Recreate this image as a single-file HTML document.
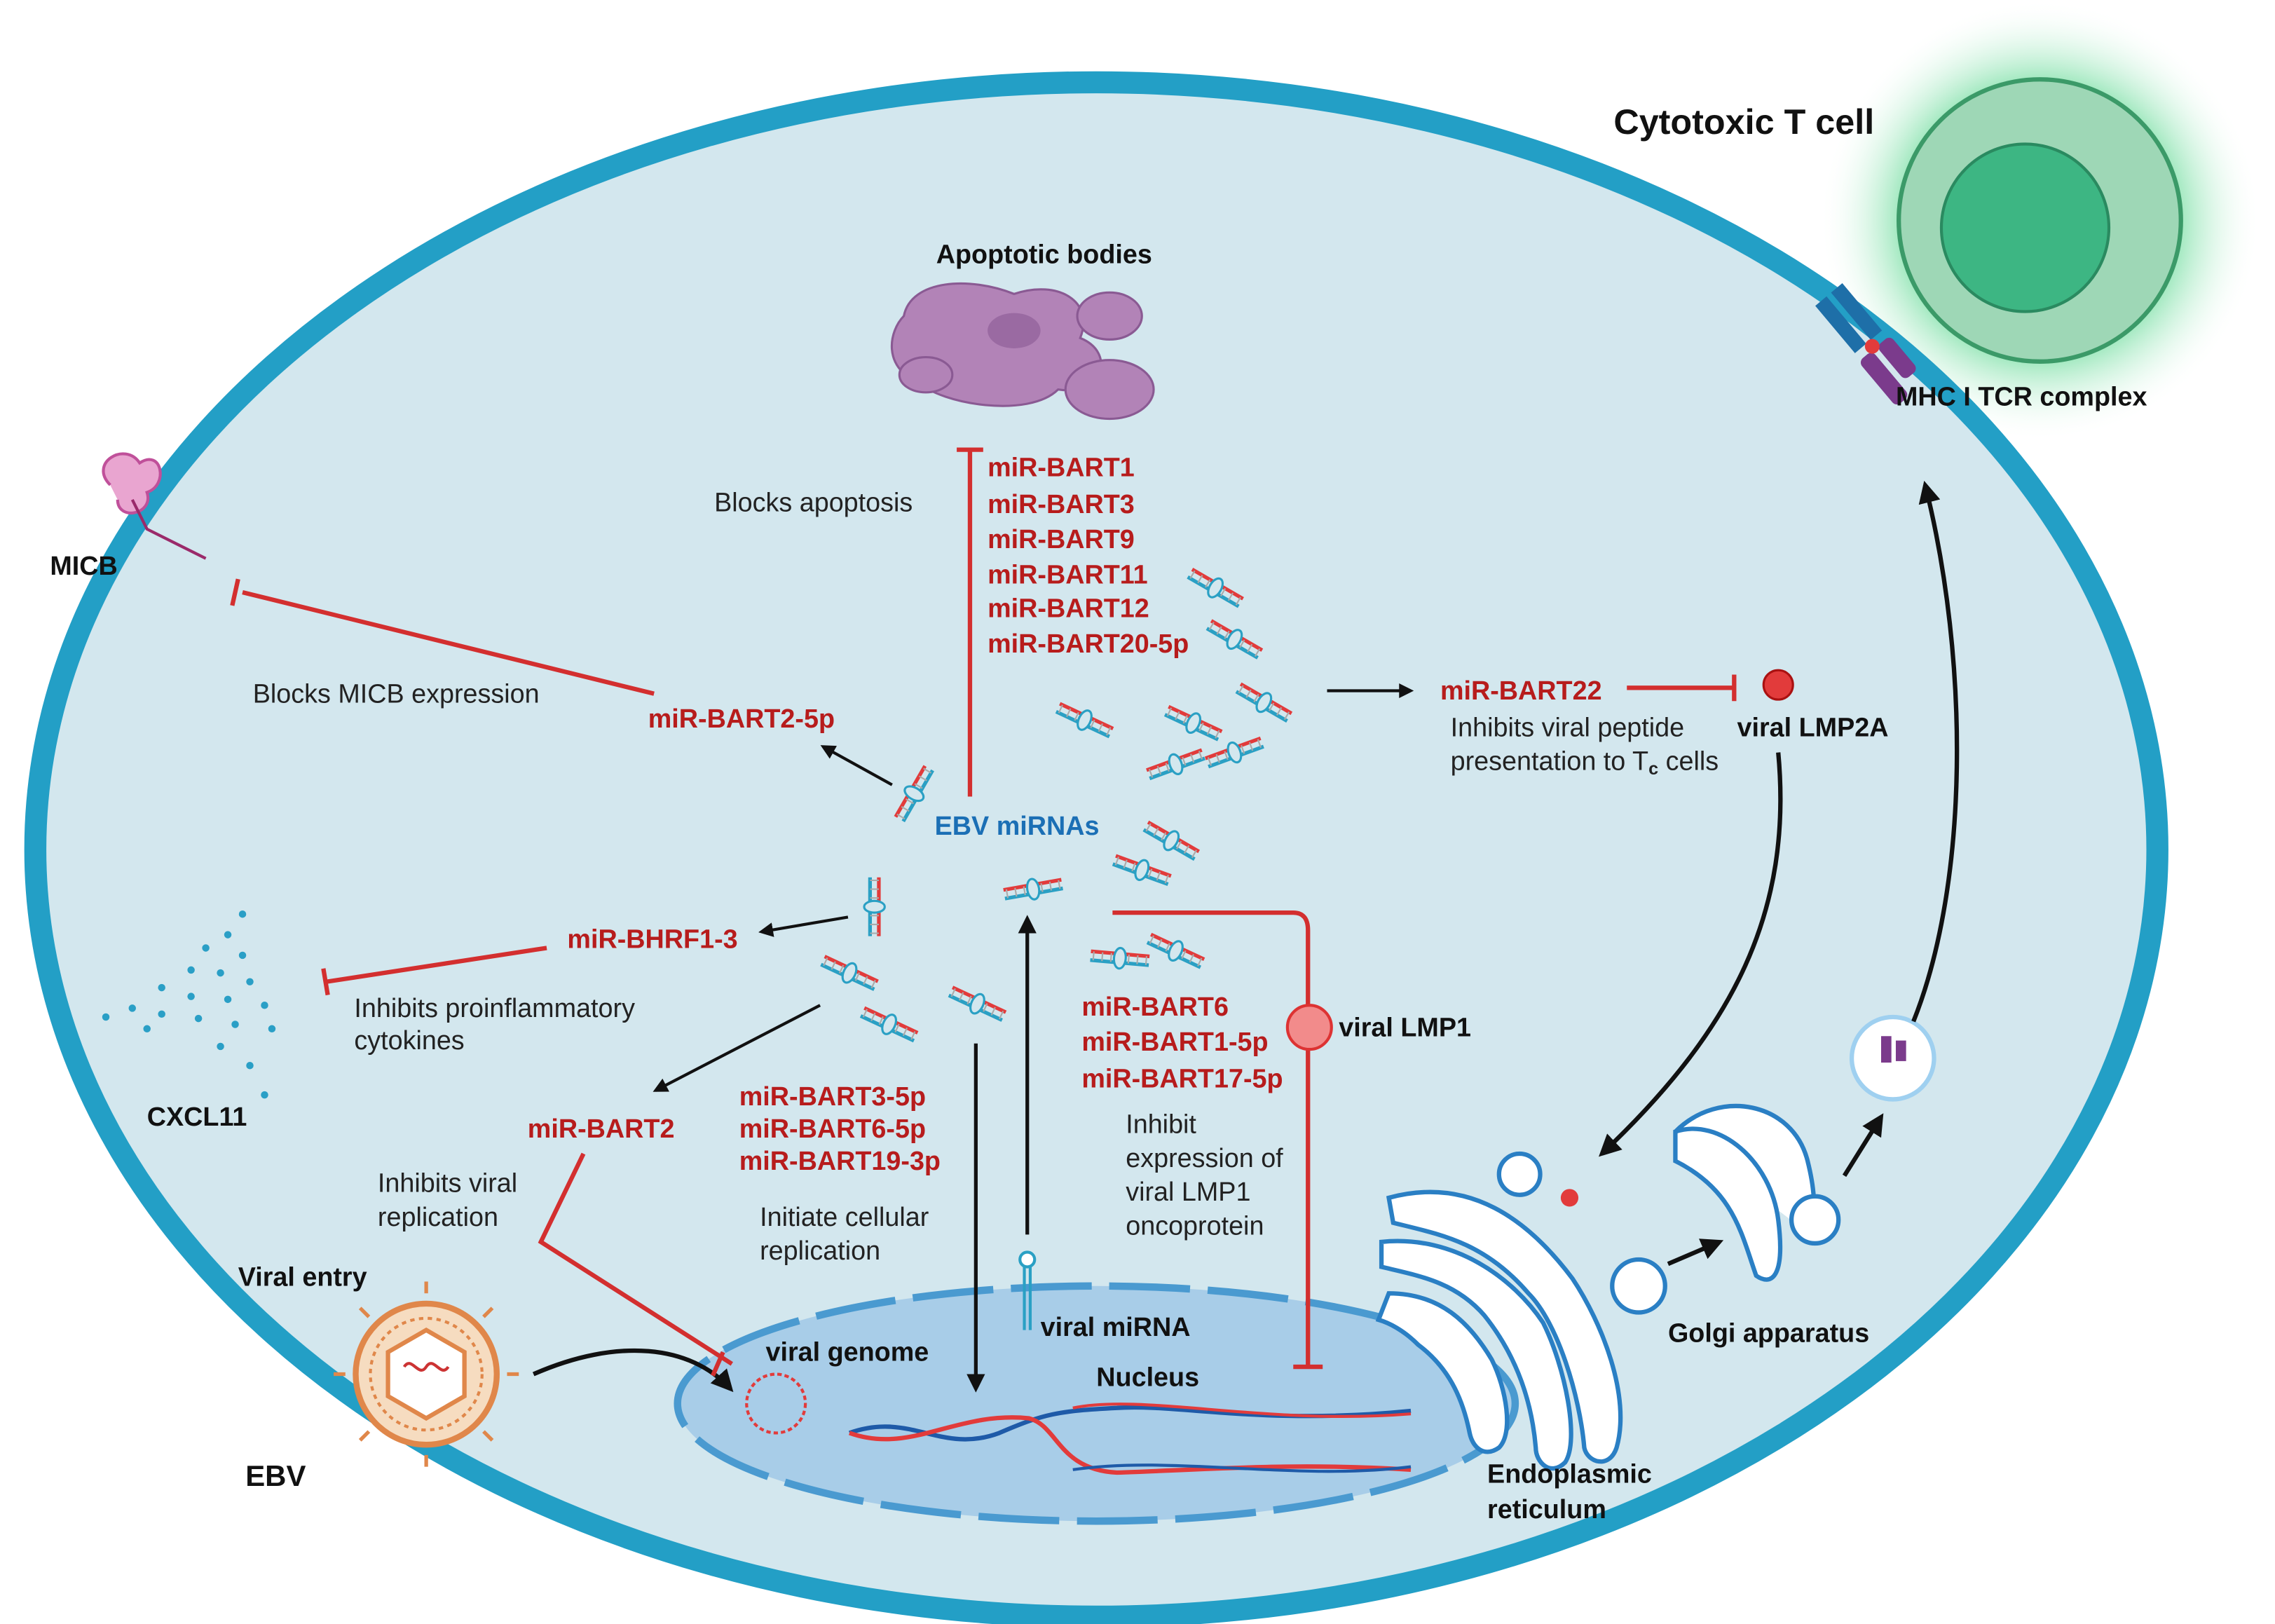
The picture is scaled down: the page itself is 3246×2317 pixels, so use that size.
<!DOCTYPE html>
<html><head><meta charset="utf-8"><style>
html,body{margin:0;padding:0;background:#fff}
svg{display:block}
text{font-family:"Liberation Sans",Arial,sans-serif}
.b{font-weight:bold;font-size:18px;fill:#111}
.r{font-weight:bold;font-size:18px;fill:#b71c1c}
.n{font-size:18px;fill:#222}
</style></head><body>
<svg width="3246" height="2317" viewBox="0 0 1548 1105" xmlns="http://www.w3.org/2000/svg">
<defs>
<radialGradient id="glow" cx="0.5" cy="0.5" r="0.5">
<stop offset="0.6" stop-color="#7fe0a8" stop-opacity="0.9"/>
<stop offset="1" stop-color="#ffffff" stop-opacity="0"/>
</radialGradient>
<marker id="ah" viewBox="0 0 10 10" refX="8" refY="5" markerWidth="5" markerHeight="5" orient="auto"><path d="M0,0 L10,5 L0,10 z" fill="#111"/></marker>
<g id="mi">
<path d="M-20,-3 L20,-3" stroke="#e23b3b" stroke-width="2.5"/>
<path d="M-20,3 L20,3" stroke="#2aa0c4" stroke-width="2.5"/>
<path d="M-18,-3 v6 M-12,-3 v6 M-6,-3 v6 M6,-3 v6 M12,-3 v6 M18,-3 v6" stroke="#aaa" stroke-width="1"/>
<ellipse cx="0" cy="0" rx="4" ry="7" fill="#d3e7ee" stroke="#2aa0c4" stroke-width="1.5"/>
</g>
</defs>
<rect width="1548" height="1105" fill="#fff"/>
<circle cx="1388" cy="150" r="150" fill="url(#glow)"/>
<ellipse cx="746" cy="578" rx="722" ry="522" fill="#d3e7ee" stroke="#239fc6" stroke-width="15"/>
<circle cx="1388" cy="150" r="96" fill="#9ed7b6" stroke="#3b9a68" stroke-width="3"/>
<circle cx="1378" cy="155" r="57" fill="#3db683" stroke="#2a8a60" stroke-width="2"/>
<text x="1098" y="91" class="b" style="font-size:24px">Cytotoxic T cell</text>
<g transform="rotate(-40 1275 240)">
<rect x="1265" y="190" width="10" height="42" fill="#1e6fa8"/><rect x="1279" y="190" width="10" height="42" fill="#1e6fa8"/>
<rect x="1263" y="238" width="12" height="40" rx="4" fill="#7b3b8c"/><rect x="1279" y="238" width="12" height="30" rx="4" fill="#7b3b8c"/>
<circle cx="1277" cy="236" r="5" fill="#e23b3b"/>
</g>
<text x="1290" y="276" class="b">MHC I TCR complex</text>
<ellipse cx="746" cy="955" rx="285" ry="80" fill="#a8cde8"/>
<ellipse cx="746" cy="955" rx="285" ry="80" fill="none" stroke="#4a9ad0" stroke-width="5" stroke-dasharray="55 12"/>
<path d="M578,975 C620,960 640,990 680,975 C710,962 720,960 760,958 C800,955 860,970 960,960" stroke="#1e5aa8" stroke-width="3" fill="none"/>
<path d="M578,975 C620,990 650,960 700,965 C720,970 720,1000 760,1002 C820,1000 880,995 960,1000" stroke="#e23b3b" stroke-width="3" fill="none"/>
<path d="M730,958 C780,948 860,970 960,962" stroke="#e23b3b" stroke-width="2" fill="none"/>
<path d="M730,1000 C800,990 880,1008 960,998" stroke="#1e5aa8" stroke-width="2" fill="none"/>
<text x="746" y="943" class="b">Nucleus</text>
<circle cx="528" cy="955" r="20" fill="none" stroke="#e23b3b" stroke-width="2" stroke-dasharray="3 2"/>
<text x="521" y="926" class="b">viral genome</text>
<text x="637" y="179" class="b">Apoptotic bodies</text>
<g fill="#b283b7" stroke="#8a5a93" stroke-width="1.5">
<path d="M615,215 C620,190 660,188 690,200 C720,190 745,205 735,230 C760,240 750,270 720,265 C700,285 640,275 625,260 C600,250 605,225 615,215z"/>
<ellipse cx="755" cy="215" rx="22" ry="16"/><ellipse cx="755" cy="265" rx="30" ry="20"/><ellipse cx="630" cy="255" rx="18" ry="12"/>
</g>
<ellipse cx="690" cy="225" rx="18" ry="12" fill="#9a6aa2"/>
<circle cx="290" cy="935" r="48" fill="#f6dcc0" stroke="#e0874a" stroke-width="4"/>
<circle cx="290" cy="935" r="38" fill="none" stroke="#e0874a" stroke-width="2" stroke-dasharray="3 3"/>
<polygon points="290,905 316,920 316,950 290,965 264,950 264,920" fill="#fff" stroke="#e0874a" stroke-width="3"/>
<path d="M275,930 c5,-8 10,8 15,0 c5,-8 10,8 15,0" stroke="#c33" fill="none" stroke-width="2"/>
<g stroke="#e0874a" stroke-width="2.5">
<line x1="290" y1="880" x2="290" y2="872"/><line x1="290" y1="990" x2="290" y2="998"/><line x1="235" y1="935" x2="227" y2="935"/><line x1="345" y1="935" x2="353" y2="935"/>
<line x1="251" y1="896" x2="245" y2="890"/><line x1="329" y1="896" x2="335" y2="890"/><line x1="251" y1="974" x2="245" y2="980"/><line x1="329" y1="974" x2="335" y2="980"/>
</g>
<text x="162" y="875" class="b">Viral entry</text>
<text x="167" y="1011" class="b" style="font-size:20px">EBV</text>
<path d="M363,935 C420,910 470,915 497,945" stroke="#111" stroke-width="3" fill="none" marker-end="url(#ah)"/>
<path d="M75,330 c-15,-15 10,-30 20,-15 c15,-10 20,15 5,20 c5,15 -20,20 -20,5" fill="#e9a5d0" stroke="#c0509a" stroke-width="2"/>
<path d="M90,340 L100,360 L140,380" stroke="#9a2a6a" stroke-width="2" fill="none"/>
<text x="34" y="391" class="b">MICB</text>
<g fill="#2a9fc6">
<circle cx="165" cy="622" r="2.5"/><circle cx="155" cy="636" r="2.5"/><circle cx="140" cy="645" r="2.5"/><circle cx="165" cy="650" r="2.5"/><circle cx="130" cy="660" r="2.5"/><circle cx="150" cy="662" r="2.5"/><circle cx="170" cy="668" r="2.5"/><circle cx="110" cy="672" r="2.5"/><circle cx="130" cy="678" r="2.5"/><circle cx="155" cy="680" r="2.5"/><circle cx="180" cy="684" r="2.5"/><circle cx="90" cy="686" r="2.5"/><circle cx="110" cy="690" r="2.5"/><circle cx="135" cy="693" r="2.5"/><circle cx="160" cy="697" r="2.5"/><circle cx="72" cy="692" r="2.5"/><circle cx="100" cy="700" r="2.5"/><circle cx="150" cy="712" r="2.5"/><circle cx="170" cy="725" r="2.5"/><circle cx="180" cy="745" r="2.5"/><circle cx="185" cy="700" r="2.5"/>
</g>
<text x="100" y="766" class="b">CXCL11</text>
<use href="#mi" transform="translate(827,400) rotate(30)"/>
<use href="#mi" transform="translate(840,435) rotate(30)"/>
<use href="#mi" transform="translate(860,478) rotate(30)"/>
<use href="#mi" transform="translate(738,490) rotate(25)"/>
<use href="#mi" transform="translate(812,492) rotate(25)"/>
<use href="#mi" transform="translate(800,520) rotate(-20)"/>
<use href="#mi" transform="translate(840,512) rotate(-20)"/>
<use href="#mi" transform="translate(622,540) rotate(-60)"/>
<use href="#mi" transform="translate(797,572) rotate(30)"/>
<use href="#mi" transform="translate(777,592) rotate(20)"/>
<use href="#mi" transform="translate(703,605) rotate(-10)"/>
<use href="#mi" transform="translate(595,617) rotate(90)"/>
<use href="#mi" transform="translate(578,662) rotate(25)"/>
<use href="#mi" transform="translate(605,697) rotate(25)"/>
<use href="#mi" transform="translate(665,683) rotate(25)"/>
<use href="#mi" transform="translate(762,652) rotate(5)"/>
<use href="#mi" transform="translate(800,647) rotate(25)"/>
<text x="486" y="348" class="n">Blocks apoptosis</text>
<text x="672" y="324" class="r">miR-BART1</text><text x="672" y="349" class="r">miR-BART3</text><text x="672" y="373" class="r">miR-BART9</text><text x="672" y="397" class="r">miR-BART11</text><text x="672" y="420" class="r">miR-BART12</text><text x="672" y="444" class="r">miR-BART20-5p</text>
<path d="M660,542 V306 M651,306 H669" stroke="#d32f2f" stroke-width="3" fill="none"/>
<text x="636" y="568" class="b" style="fill:#1b6fb5">EBV miRNAs</text>
<text x="172" y="478" class="n">Blocks MICB expression</text>
<text x="441" y="495" class="r">miR-BART2-5p</text>
<path d="M445,472 L165,403 M162,394 L158,412" stroke="#d32f2f" stroke-width="3" fill="none"/>
<line x1="607" y1="534" x2="560" y2="508" stroke="#111" stroke-width="2" marker-end="url(#ah)"/>
<line x1="903" y1="470" x2="960" y2="470" stroke="#111" stroke-width="2" marker-end="url(#ah)"/>
<text x="980" y="476" class="r">miR-BART22</text>
<path d="M1107,468 H1180 M1180,459 V477" stroke="#d32f2f" stroke-width="3" fill="none"/>
<circle cx="1210" cy="466" r="10" fill="#e23b3b" stroke="#a11" stroke-width="1.5"/>
<text x="1182" y="501" class="b">viral LMP2A</text>
<text x="987" y="501" class="n">Inhibits viral peptide</text>
<text x="987" y="524" class="n">presentation to T<tspan font-size="12" font-weight="bold" dy="3">c</tspan><tspan dy="-3"> cells</tspan></text>
<path d="M1210,512 C1220,620 1180,700 1090,785" stroke="#111" stroke-width="3" fill="none" marker-end="url(#ah)"/>
<text x="386" y="645" class="r">miR-BHRF1-3</text>
<line x1="577" y1="624" x2="518" y2="634" stroke="#111" stroke-width="2" marker-end="url(#ah)"/>
<path d="M372,645 L222,668 M220,659 L223,677" stroke="#d32f2f" stroke-width="3" fill="none"/>
<text x="241" y="692" class="n">Inhibits proinflammatory</text>
<text x="241" y="714" class="n">cytokines</text>
<line x1="558" y1="684" x2="446" y2="742" stroke="#111" stroke-width="2" marker-end="url(#ah)"/>
<text x="359" y="774" class="r">miR-BART2</text>
<text x="257" y="811" class="n">Inhibits viral</text>
<text x="257" y="834" class="n">replication</text>
<path d="M397,785 L368,845 L498,928 M492,920 L485,936" stroke="#d32f2f" stroke-width="3" fill="none"/>
<text x="503" y="752" class="r">miR-BART3-5p</text>
<text x="503" y="774" class="r">miR-BART6-5p</text>
<text x="503" y="796" class="r">miR-BART19-3p</text>
<text x="517" y="834" class="n">Initiate cellular</text>
<text x="517" y="857" class="n">replication</text>
<line x1="664" y1="710" x2="664" y2="945" stroke="#111" stroke-width="2.5" marker-end="url(#ah)"/>
<line x1="699" y1="840" x2="699" y2="625" stroke="#111" stroke-width="2.5" marker-end="url(#ah)"/>
<circle cx="699" cy="857" r="5" fill="#fff" stroke="#2aa0c4" stroke-width="2"/>
<path d="M697,862 V905 M701,862 V905" stroke="#2aa0c4" stroke-width="2"/>
<text x="708" y="909" class="b">viral miRNA</text>
<path d="M757,621 H880 Q890,621 890,633 V930 M880,930 H900" stroke="#d32f2f" stroke-width="3" fill="none"/>
<circle cx="891" cy="699" r="15" fill="#f28b8b" stroke="#d33" stroke-width="2"/>
<text x="911" y="705" class="b">viral LMP1</text>
<text x="736" y="691" class="r">miR-BART6</text>
<text x="736" y="715" class="r">miR-BART1-5p</text>
<text x="736" y="740" class="r">miR-BART17-5p</text>
<text x="766" y="771" class="n">Inhibit</text>
<text x="766" y="794" class="n">expression of</text>
<text x="766" y="817" class="n">viral LMP1</text>
<text x="766" y="840" class="n">oncoprotein</text>
<g fill="#fff" stroke="#2a7fc4" stroke-width="3">
<circle cx="1034" cy="799" r="14"/>
<path d="M945,815 C1000,800 1040,830 1070,870 C1090,900 1110,950 1100,985 C1095,1000 1080,995 1078,985 C1075,950 1060,900 1040,880 C1010,845 980,840 948,832 Z"/>
<path d="M940,845 C990,840 1030,870 1050,900 C1065,930 1075,980 1065,995 C1055,1005 1045,995 1045,985 C1042,950 1030,920 1010,895 C990,872 965,868 940,862 Z"/>
<path d="M945,880 C980,880 1000,900 1015,925 C1025,945 1030,975 1020,985 C1010,992 1002,985 1000,975 C995,950 985,930 965,915 C955,905 945,900 938,898 Z"/>
<circle cx="1115" cy="875" r="18"/>
<path d="M1140,770 C1170,740 1220,750 1230,790 C1240,830 1230,840 1225,835 M1140,770 C1170,760 1205,790 1210,830 C1215,870 1205,875 1195,868 C1185,840 1180,810 1140,790 Z"/>
<circle cx="1235" cy="830" r="16"/>
<circle cx="1288" cy="720" r="28" stroke="#9fd0f0"/>
</g>
<circle cx="1068" cy="815" r="6" fill="#e23b3b"/>
<rect x="1280" y="705" width="7" height="18" fill="#7b3b8c"/><rect x="1290" y="708" width="7" height="14" fill="#7b3b8c"/>
<text x="1012" y="1009" class="b">Endoplasmic</text>
<text x="1012" y="1033" class="b">reticulum</text>
<text x="1135" y="913" class="b">Golgi apparatus</text>
<line x1="1135" y1="860" x2="1170" y2="845" stroke="#111" stroke-width="3" marker-end="url(#ah)"/>
<line x1="1255" y1="800" x2="1280" y2="760" stroke="#111" stroke-width="3" marker-end="url(#ah)"/>
<path d="M1302,695 C1340,600 1340,450 1310,330" stroke="#111" stroke-width="3" fill="none" marker-end="url(#ah)"/>
</svg>
</body></html>
